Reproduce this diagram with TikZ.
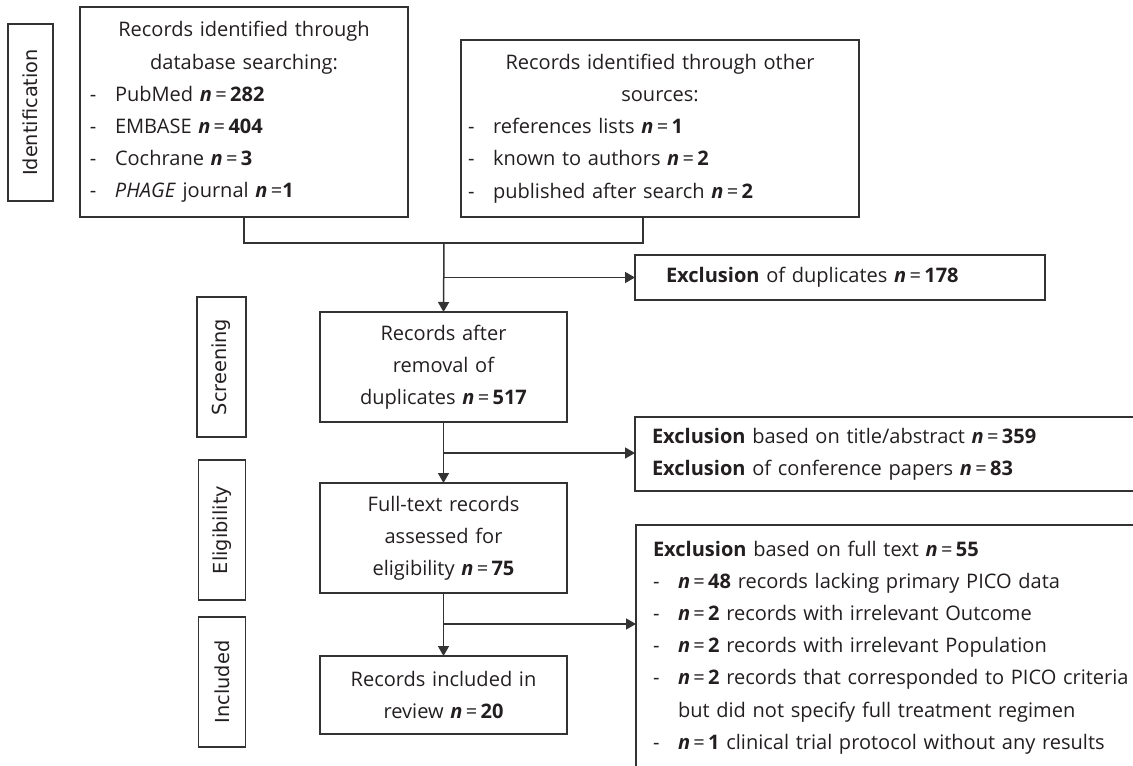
\documentclass[tikz,border=0pt]{standalone}
\usepackage{fontspec}
\setmainfont{Open Sans}
\newfontfamily\stagefont{DejaVu Sans}
\usepackage{tikz}
\usetikzlibrary{calc}
\usetikzlibrary{positioning}
\usetikzlibrary{arrows.meta}

\definecolor{linegray}{HTML}{333333}
\definecolor{textgray}{HTML}{231F20}
\newcommand{\nn}{\textbf{\textit{n}}}
\newcommand{\nval}[1]{\nn\,=\,\textbf{#1}}
\newcommand{\dashitem}{\makebox[5mm][l]{-}}

\tikzset{
  box/.style={draw=linegray,line width=0.3mm,inner sep=0pt,outer sep=0pt,
    text=textgray,font=\fontsize{11.4}{18.3}\selectfont},
  stage/.style={box,rotate=90,minimum height=9.4mm,font=\stagefont\fontsize{11}{13}\selectfont},
  conn/.style={draw=linegray,line width=0.3mm}
}

\begin{document}
\begin{tikzpicture}[>={Triangle[length=2mm,width=2.2mm]},x=0.2mm,y=-0.2mm]
    \useasboundingbox (0,0) rectangle (1133,766);
    \clip (0,0) rectangle (1133,766);

    % stage labels on the left
    \node[stage,minimum width=35.4mm,minimum height=9mm] (idlab) at (30.5,112.5) {Identification};
    \node[stage,minimum width=28mm,minimum height=9.8mm] (scrlab) at (221.5,367) {Screening};
    \node[stage,minimum width=28mm] (eliglab) at (222,530) {Eligibility};
    \node[stage,minimum width=26mm] (inclab) at (222,682) {Included};

    % identification
    \node[box,minimum width=65.6mm,minimum height=42mm,text width=61.6mm,align=left] (db) at (244,112) {%
      {\centering Records identified through\\ database searching:\par}
      \dashitem PubMed \nval{282}\\
      \dashitem EMBASE \nval{404}\\
      \dashitem Cochrane \nval{3}\\
      \dashitem \textit{PHAGE} journal \nn\,=\textbf{1}};
    \node[box,minimum width=79.6mm,minimum height=35.4mm,text width=76.8mm,align=left] (other) at (660,128.5) {%
      {\centering Records identified through other\\ sources:\par}
      \dashitem references lists \nval{1}\\
      \dashitem known to authors \nval{2}\\
      \dashitem published after search \nval{2}};

    % screening
    \node[box,minimum width=82mm,minimum height=9mm,text width=69.6mm,align=left] (excl1) at (840,277.5)
      {\textbf{Exclusion} of duplicates \nval{178}};
    \node[box,minimum width=49.4mm,minimum height=22mm,text width=46mm,align=center] (after) at (443.5,367)
      {Records after\\ removal of\\ duplicates \nval{517}};
    \node[box,minimum width=105mm,minimum height=14.8mm,text width=98.2mm,align=left] (excl2) at (897.5,454)
      {\textbf{Exclusion} based on title/abstract \nval{359}\\
       \textbf{Exclusion} of conference papers \nval{83}};

    % eligibility and included
    \node[box,minimum width=49.4mm,minimum height=22mm,text width=46mm,align=center] (full) at (443.5,538)
      {Full-text records\\ assessed for\\ eligibility \nval{75}};
    \node[box,minimum width=49.4mm,minimum height=15.6mm,text width=46mm,align=center] (incl) at (443.5,695)
      {Records included in\\ review \nval{20}};
    \node[box,minimum width=104.8mm,minimum height=49mm,text width=98mm,align=left] (excl3) at (898,647.5)
      {\textbf{Exclusion} based on full text \nval{55}\\
       \dashitem\nval{48} records lacking primary PICO data\\
       \dashitem\nval{2} records with irrelevant Outcome\\
       \dashitem\nval{2} records with irrelevant Population\\
       \dashitem\nval{2} records that corresponded to PICO criteria\\
       \hspace*{5mm}but did not specify full treatment regimen\\
       \dashitem\nval{1} clinical trial protocol without any results};

    % connectors
    \coordinate (join) at (444,243);
    \coordinate (split2) at (443.5,453);
    \coordinate (split3) at (443.5,624);
    \draw[conn] (db.south) |- (join) -| ([xshift=-3.4mm]other.south);
    \draw[conn,->] (join) -- (after.north);
    \draw[conn,->] (join |- excl1.west) -- (excl1.west);
    \draw[conn,->] (after.south) -- (full.north);
    \draw[conn,->] (split2) -- (split2 -| excl2.west);
    \draw[conn,->] (full.south) -- (incl.north);
    \draw[conn,->] (split3) -- (split3 -| excl3.west);
\end{tikzpicture}
\end{document}
